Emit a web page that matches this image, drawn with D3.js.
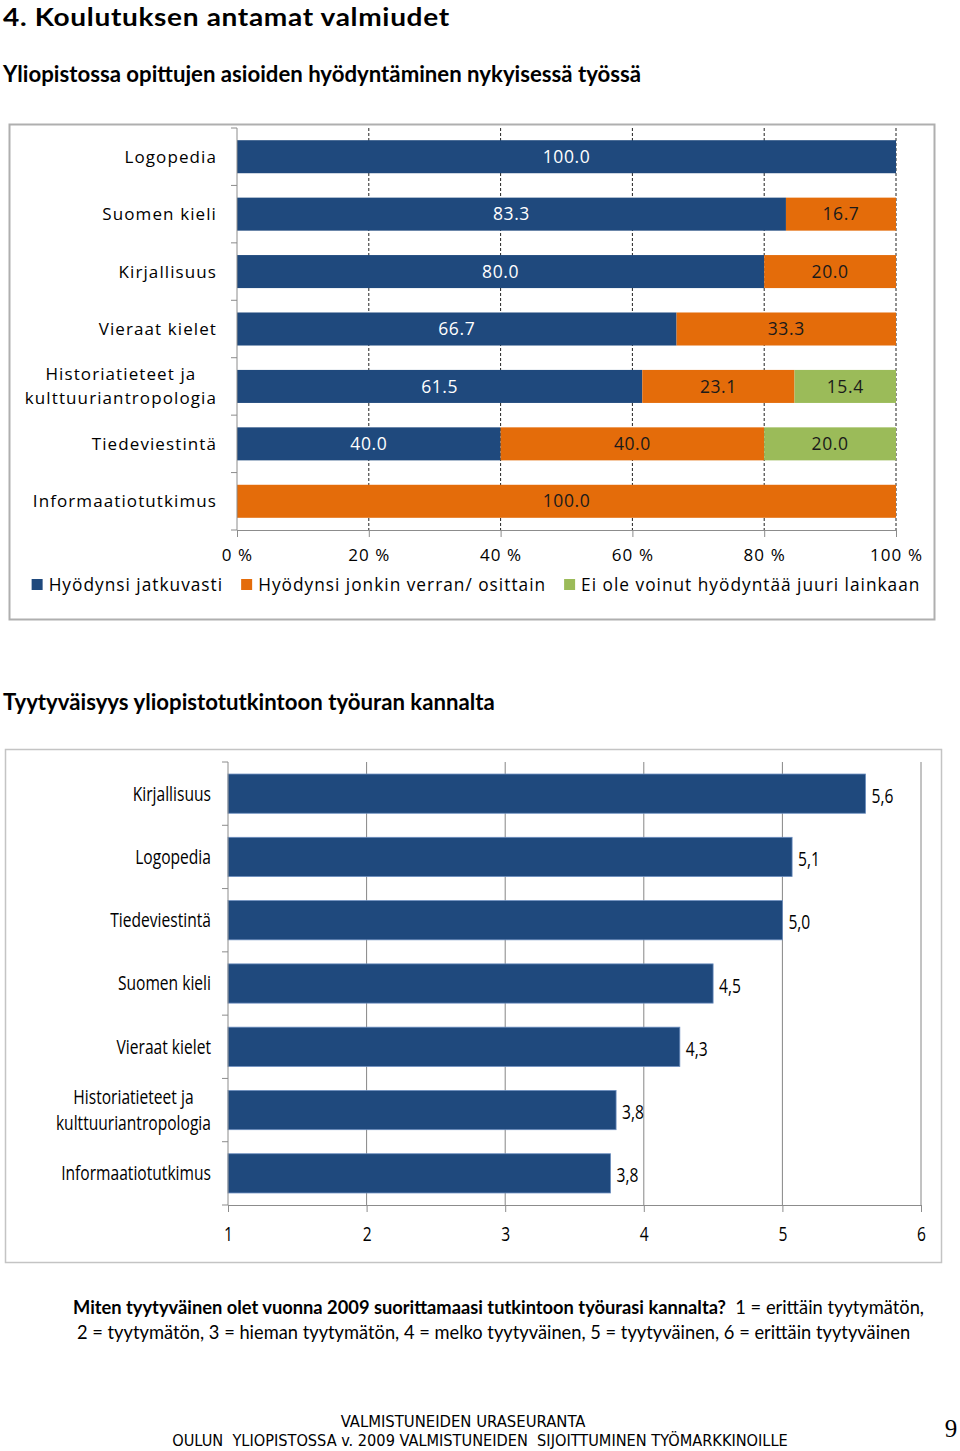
<!DOCTYPE html>
<html><head><meta charset="utf-8">
<script src="https://cdn.jsdelivr.net/npm/d3@7"></script>
<style>
html,body{margin:0;padding:0;background:#fff;}
svg{display:block;}
</style></head>
<body>
<script>
// ---------- DATA ----------
const cats1 = ["Logopedia","Suomen kieli","Kirjallisuus","Vieraat kielet","Historiatieteet ja\nkulttuuriantropologia","Tiedeviestintä","Informaatiotutkimus"];
const seriesNames1 = ["Hyödynsi jatkuvasti","Hyödynsi jonkin verran/ osittain","Ei ole voinut hyödyntää juuri lainkaan"];
const jatkuvasti = [100.0, 83.3, 80.0, 66.7, 61.5, 40.0, 0];
const osittain   = [0, 16.7, 20.0, 33.3, 23.1, 40.0, 100.0];
const eiLainkaan = [0, 0, 0, 0, 15.4, 20.0, 0];
const ticks1 = [0, 20, 40, 60, 80, 100];

const cats2 = ["Kirjallisuus","Logopedia","Tiedeviestintä","Suomen kieli","Vieraat kielet","Historiatieteet ja\nkulttuuriantropologia","Informaatiotutkimus"];
const values2 = [5.6, 5.07, 5.0, 4.5, 4.26, 3.8, 3.76];
const ticks2 = [1, 2, 3, 4, 5, 6];

const colors1 = ["#1F497D", "#E46C0A", "#9BBB59"];
const labelColors1 = ["#ffffff", "#1a1a1a", "#1a1a1a"];

// ---------- SVG ----------
const svg = d3.select("body").append("svg").attr("width", 960).attr("height", 1451);
svg.append("rect").attr("width", 960).attr("height", 1451).attr("fill", "#fff");

const titleFont = "Lato, 'Open Sans', sans-serif";
const f1 = "'Open Sans', 'DejaVu Sans', sans-serif";
const f2 = "'Open Sans', 'DejaVu Sans', sans-serif";
const sx2 = 0.78; // horizontal condensing of chart-2 text

svg.append("text").attr("transform", "translate(3,26) scale(1.1,1)").attr("font-family", titleFont)
  .attr("font-weight", 700).attr("font-size", 25.5).attr("letter-spacing", 0.6).attr("fill", "#000").text("4. Koulutuksen antamat valmiudet");
svg.append("text").attr("x", 3).attr("y", 82).attr("font-family", titleFont)
  .attr("font-weight", 700).attr("font-size", 22.2).attr("fill", "#000").text("Yliopistossa opittujen asioiden hyödyntäminen nykyisessä työssä");
svg.append("text").attr("x", 3).attr("y", 710).attr("font-family", titleFont)
  .attr("font-weight", 700).attr("font-size", 22.2).attr("fill", "#000").text("Tyytyväisyys yliopistotutkintoon työuran kannalta");

// helper for (multi-line) category labels, right aligned block, centered lines
function catLabel(g, name, right, cy, font, size, ls, lh, sx) {
  const lines = name.split("\n");
  const t = g.append("text").attr("font-family", font).attr("font-size", size)
    .attr("letter-spacing", ls).attr("fill", "#000").attr("text-anchor", "middle");
  lines.forEach((l, i) => {
    t.append("tspan").attr("x", 0).attr("y", cy + (i - (lines.length - 1) / 2) * lh).attr("dy", "0.35em").text(l);
  });
  const w = t.node().getBBox().width * sx;
  t.attr("transform", `translate(${right - w / 2},0) scale(${sx},1)`);
}

// ---------- CHART 1 ----------
const c1 = svg.append("g");
c1.append("rect").attr("x", 9.5).attr("y", 124.5).attr("width", 925).attr("height", 495)
  .attr("fill", "#fff").attr("stroke", "#AFAFAF").attr("stroke-width", 2);

const x1 = d3.scaleLinear().domain([0, 100]).range([237, 896]);
const y1 = d3.scaleBand().domain(cats1).range([128, 530]).paddingInner(0.425).paddingOuter(0.2125);

// dashed grid
c1.append("g").selectAll("line").data(ticks1.filter(d => d > 0)).join("line")
  .attr("x1", d => x1(d)).attr("x2", d => x1(d)).attr("y1", 128).attr("y2", 530)
  .attr("stroke", "#222").attr("stroke-width", 1).attr("stroke-dasharray", "3,2");

const table1 = cats1.map((c, i) => ({cat: c, s0: jatkuvasti[i], s1: osittain[i], s2: eiLainkaan[i]}));
const stack1 = d3.stack().keys(["s0", "s1", "s2"])(table1);

const layers = c1.append("g").selectAll("g").data(stack1).join("g").attr("fill", (d, i) => colors1[i]);
layers.selectAll("rect").data(d => d).join("rect")
  .attr("x", d => x1(d[0])).attr("width", d => x1(d[1]) - x1(d[0]))
  .attr("y", d => y1(d.data.cat)).attr("height", y1.bandwidth());

stack1.forEach((layer, i) => {
  c1.append("g").selectAll("text").data(layer.filter(d => d[1] - d[0] > 0)).join("text")
    .attr("x", d => x1((d[0] + d[1]) / 2)).attr("y", d => y1(d.data.cat) + y1.bandwidth() / 2)
    .attr("dy", "0.35em").attr("text-anchor", "middle").attr("font-family", f1).attr("font-size", 17.5)
    .attr("letter-spacing", 0.6).attr("fill", labelColors1[i]).text(d => (d[1] - d[0]).toFixed(1));
});

// y axis
c1.append("line").attr("x1", 237).attr("x2", 237).attr("y1", 128).attr("y2", 530).attr("stroke", "#8c8c8c");
c1.append("g").selectAll("line").data(d3.range(cats1.length + 1)).join("line")
  .attr("x1", 231).attr("x2", 237).attr("y1", i => 128 + i * y1.step()).attr("y2", i => 128 + i * y1.step())
  .attr("stroke", "#8c8c8c");
cats1.forEach(c => catLabel(c1, c, 217, y1(c) + y1.bandwidth() / 2, f1, 17, 1.1, 24, 1));

// x axis
const ax1 = c1.append("g").attr("transform", "translate(0,530)")
  .call(d3.axisBottom(x1).tickValues(ticks1).tickSize(7).tickPadding(12).tickFormat(d => d + " %"));
ax1.select(".domain").attr("stroke", "#8c8c8c");
ax1.selectAll(".tick line").attr("stroke", "#8c8c8c");
ax1.selectAll(".tick text").attr("font-family", f1).attr("font-size", 17).attr("letter-spacing", 1.1).attr("fill", "#000");

// legend
const leg = c1.append("g");
let lx = 0;
seriesNames1.forEach((n, i) => {
  const g = leg.append("g").attr("transform", `translate(${lx},0)`);
  g.append("rect").attr("x", 0).attr("y", -6).attr("width", 11).attr("height", 11).attr("fill", colors1[i]);
  const t = g.append("text").attr("x", 17).attr("y", 0).attr("dy", "0.35em").attr("font-family", f1)
    .attr("font-size", 17.3).attr("letter-spacing", 1.0).attr("fill", "#000").text(n);
  lx += 17 + t.node().getComputedTextLength() + 18;
});
const legW = lx - 18;
leg.attr("transform", `translate(${476 - legW / 2},585)`);

// ---------- CHART 2 ----------
const c2 = svg.append("g");
c2.append("rect").attr("x", 5.5).attr("y", 749.5).attr("width", 936).attr("height", 513)
  .attr("fill", "#fff").attr("stroke", "#C4C4C4").attr("stroke-width", 1.5);

const x2 = d3.scaleLinear().domain([1, 6]).range([228, 921]);
const y2 = d3.scaleBand().domain(cats2).range([762, 1205]).paddingInner(0.38).paddingOuter(0.19);

c2.append("g").selectAll("line").data(ticks2.filter(d => d > 1)).join("line")
  .attr("x1", d => x2(d)).attr("x2", d => x2(d)).attr("y1", 762).attr("y2", 1205)
  .attr("stroke", "#868686").attr("stroke-width", 1);

c2.append("g").selectAll("rect").data(values2).join("rect")
  .attr("x", x2(1)).attr("y", (d, i) => y2(cats2[i])).attr("height", y2.bandwidth())
  .attr("width", d => x2(d) - x2(1)).attr("fill", "#1F497D").attr("stroke", "#6c8ebf").attr("stroke-width", 0.8);

c2.append("g").selectAll("text").data(values2).join("text")
  .attr("transform", (d, i) => `translate(${x2(d) + 6},${y2(cats2[i]) + y2.bandwidth() / 2 + 2}) scale(${sx2},1)`)
  .attr("dy", "0.35em")
  .attr("font-family", f2).attr("font-size", 20).attr("fill", "#000")
  .text(d => d.toFixed(1).replace(".", ","));

c2.append("line").attr("x1", 228).attr("x2", 228).attr("y1", 762).attr("y2", 1205).attr("stroke", "#8c8c8c");
c2.append("g").selectAll("line").data(d3.range(cats2.length + 1)).join("line")
  .attr("x1", 222).attr("x2", 228).attr("y1", i => 762 + i * y2.step()).attr("y2", i => 762 + i * y2.step())
  .attr("stroke", "#8c8c8c");
cats2.forEach(c => catLabel(c2, c, 211, y2(c) + y2.bandwidth() / 2, f2, 20, 0, 26, sx2));

const ax2 = c2.append("g").attr("transform", "translate(0,1205)")
  .call(d3.axisBottom(x2).tickValues(ticks2).tickSize(7).tickPadding(15).tickFormat(d3.format("d")));
ax2.select(".domain").attr("stroke", "#8c8c8c");
ax2.selectAll(".tick line").attr("stroke", "#8c8c8c");
ax2.selectAll(".tick text").attr("font-family", f2).attr("font-size", 20).attr("fill", "#000")
  .attr("transform", `scale(${sx2},1)`);

// ---------- QUESTION + FOOTER ----------
const q1 = svg.append("text").attr("x", 73).attr("y", 1314).attr("font-family", titleFont).attr("font-size", 18.3).attr("fill", "#000");
q1.append("tspan").attr("font-weight", 700).text("Miten tyytyväinen olet vuonna 2009 suorittamaasi tutkintoon työurasi kannalta?");
q1.append("tspan").text("\u00a0 1 = erittäin tyytymätön,");
svg.append("text").attr("x", 77).attr("y", 1339).attr("font-family", titleFont).attr("font-size", 18.3).attr("fill", "#000")
  .text("2 = tyytymätön, 3 = hieman tyytymätön, 4 = melko tyytyväinen, 5 = tyytyväinen, 6 = erittäin tyytyväinen");

const ff = "'Liberation Sans Narrow', 'DejaVu Sans Condensed', 'Open Sans', sans-serif";
svg.append("text").attr("x", 463).attr("y", 1427).attr("text-anchor", "middle").attr("font-family", ff)
  .attr("font-size", 16.5).attr("fill", "#000").text("VALMISTUNEIDEN URASEURANTA");
svg.append("text").attr("x", 480).attr("y", 1446).attr("text-anchor", "middle").attr("font-family", ff)
  .attr("font-size", 16.2).attr("fill", "#000")
  .text("OULUN\u00a0 YLIOPISTOSSA v. 2009 VALMISTUNEIDEN\u00a0 SIJOITTUMINEN TYÖMARKKINOILLE");
svg.append("text").attr("x", 951).attr("y", 1437).attr("text-anchor", "middle").attr("font-family", "'Liberation Serif', serif")
  .attr("font-size", 25).attr("fill", "#000").text("9");
</script>
</body></html>
